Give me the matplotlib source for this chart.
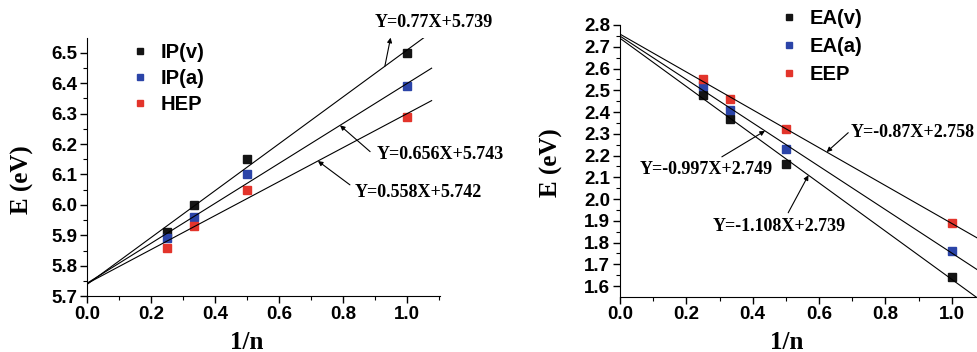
import numpy as np
import matplotlib.pyplot as plt
from matplotlib.ticker import MultipleLocator

# 1/n values
inv_n = [0.25, 0.333, 0.5, 1.0]

# left panel: ionization potentials
ip_v = [5.91, 6.00, 6.15, 6.50]
ip_a = [5.89, 5.96, 6.10, 6.39]
hep = [5.86, 5.93, 6.05, 6.29]
ip_labels = ['IP(v)', 'IP(a)', 'HEP']
ip_fits = [(0.77, 5.739), (0.656, 5.743), (0.558, 5.742)]

# right panel: electron affinities
ea_v = [2.48, 2.37, 2.16, 1.64]
ea_a = [2.52, 2.41, 2.23, 1.76]
eep = [2.55, 2.46, 2.32, 1.89]
ea_labels = ['EA(v)', 'EA(a)', 'EEP']
ea_fits = [(-1.108, 2.739), (-0.997, 2.749), (-0.87, 2.758)]

colors = ['#141414', '#2b44a8', '#e3342b']

sans = 'Liberation Sans'
serif = 'Liberation Serif'
plt.rcParams['font.family'] = sans
plt.rcParams['font.weight'] = 'bold'


def fit_label(m, b):
    return f'Y={m:g}X+{b:g}'


def style_axes(ax, xmax, ylo, yhi, ymaj, ymin):
    ax.set_xlim(0, xmax)
    ax.set_ylim(ylo, yhi)
    ax.spines['top'].set_visible(False)
    ax.spines['right'].set_visible(False)
    ax.xaxis.set_major_locator(MultipleLocator(0.2))
    ax.xaxis.set_minor_locator(MultipleLocator(0.1))
    ax.yaxis.set_major_locator(MultipleLocator(ymaj))
    ax.yaxis.set_minor_locator(MultipleLocator(ymin))
    ax.tick_params(which='major', direction='out', length=5, width=1,
                   labelsize=13.5, pad=2)
    ax.tick_params(which='minor', direction='out', length=3, width=0.8)
    ax.set_xlabel('1/n', fontsize=18, fontweight='bold', fontfamily=serif, va='center')
    ax.set_ylabel('E (eV)', fontsize=18, fontweight='bold', fontfamily=serif, va='center')


def draw_panel(ax, series, labels, fits, xend):
    for vals, lab, c in zip(series, labels, colors):
        ax.plot(inv_n, vals, 's', color=c, ms=5.5, label=lab, mec=c)
    for m, b in fits:
        xs = np.array([0.0, xend])
        ax.plot(xs, m * xs + b, color='black', lw=0.8)


def annotate_fit(ax, m, b, x_line, other, text_pos, ha, head_on_line=True):
    on_line = (x_line, m * x_line + b)
    head, tail = (on_line, other) if head_on_line else (other, on_line)
    ax.annotate('', xy=head, xytext=tail,
                arrowprops=dict(arrowstyle='-|>', color='black', lw=0.8,
                                mutation_scale=7, shrinkA=0, shrinkB=0),
                annotation_clip=False)
    ax.text(text_pos[0], text_pos[1], fit_label(m, b), ha=ha, va='center',
            fontsize=13, fontweight='bold', fontfamily=serif, clip_on=False)


fig = plt.figure(figsize=(9.77, 3.52), dpi=100)

# left panel
ax1 = fig.add_axes([0.089, 0.158, 0.3613, 0.735])
draw_panel(ax1, [ip_v, ip_a, hep], ip_labels, ip_fits, 1.076)
style_axes(ax1, 1.102, 5.7, 6.549, 0.1, 0.05)
ax1.xaxis.set_label_coords(0.452, -0.178)
ax1.yaxis.set_label_coords(-0.182, 0.45)
annotate_fit(ax1, *ip_fits[0], 0.930, (0.948, 6.549), (1.083, 6.599), 'center',
             head_on_line=False)
annotate_fit(ax1, *ip_fits[1], 0.790, (0.884, 6.175), (0.905, 6.164), 'left')
annotate_fit(ax1, *ip_fits[2], 0.721, (0.821, 6.066), (0.837, 6.040), 'left')
ax1.legend(loc='upper left', bbox_to_anchor=(0.105, 1.01), frameon=False,
           prop=dict(family=sans, weight='bold', size=14.5), markerscale=0.8,
           handlelength=0.8, handletextpad=0.6, labelspacing=0.35,
           borderaxespad=0)

# right panel
ax2 = fig.add_axes([0.6346, 0.157, 0.3735, 0.772])
draw_panel(ax2, [ea_v, ea_a, eep], ea_labels, ea_fits, 1.1)
style_axes(ax2, 1.1, 1.551, 2.8, 0.1, 0.05)
ax2.xaxis.set_label_coords(0.457, -0.167)
ax2.yaxis.set_label_coords(-0.187, 0.492)
annotate_fit(ax2, *ea_fits[2], 0.623, (0.688, 2.305), (0.696, 2.305), 'left')
annotate_fit(ax2, *ea_fits[1], 0.437, (0.307, 2.194), (0.259, 2.137), 'center')
annotate_fit(ax2, *ea_fits[0], 0.568, (0.507, 1.937), (0.481, 1.876), 'center')
ax2.legend(loc='upper left', bbox_to_anchor=(0.42, 1.088), frameon=False,
           prop=dict(family=sans, weight='bold', size=14.5), markerscale=0.8,
           handlelength=0.8, handletextpad=0.6, labelspacing=0.45,
           borderaxespad=0)

fig.savefig('out.png', dpi=100)
